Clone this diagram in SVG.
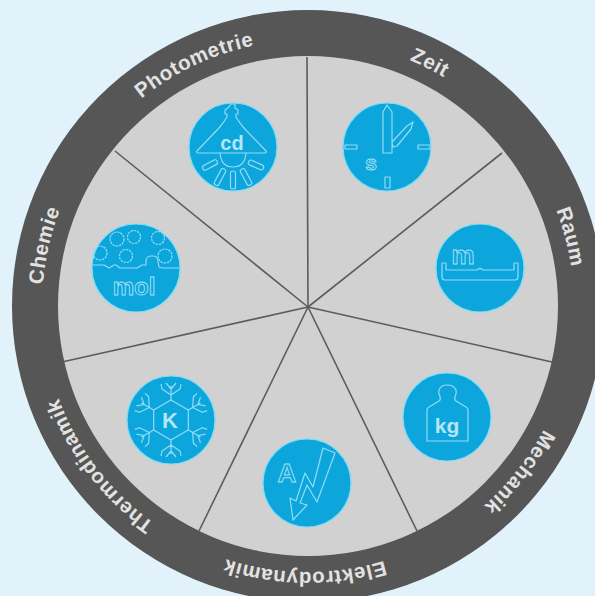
<svg xmlns="http://www.w3.org/2000/svg" width="595" height="596" viewBox="0 0 595 596">
<style>
.lbl{font-family:"Liberation Sans",Arial,sans-serif;font-weight:bold;font-size:20.5px;letter-spacing:.6px;fill:#e2e2e2;text-anchor:middle}
.disc{fill:#0ca5dc;stroke:#7fdcf5;stroke-width:1.2}
.ic{fill:none;stroke:#93dcf4;stroke-width:1.2;stroke-linejoin:round}
.tf{font-family:"Liberation Sans",Arial,sans-serif;font-weight:bold;fill:#b5e6f6;text-anchor:middle}
.to{font-family:"Liberation Sans",Arial,sans-serif;font-weight:bold;fill:none;stroke:#a5e2f6;stroke-width:.9;text-anchor:middle}
.spoke{stroke:#5c5c5c;stroke-width:1.6}
</style>
<defs>
<path id="ringpath" d="M308 40A266 266 0 1 1 307.99 40"/>
<path id="arm" d="M0-20V-34M0-25l-9-6-1-5M0-25l9-6 1-5M0-31l-5-6M0-31l5-6"/>
</defs>
<rect width="595" height="596" fill="#e1f2fb"/>
<g id="wheel">
<circle cx="308" cy="306" r="296" fill="#565656"/>
<circle cx="308" cy="306" r="250" fill="#d1d1d1"/>
</g>
<g id="connectors">
<line class="spoke" x1="308" y1="307" x2="307" y2="57"/>
<line class="spoke" x1="308" y1="307" x2="502" y2="153"/>
<line class="spoke" x1="308" y1="307" x2="552" y2="362"/>
<line class="spoke" x1="308" y1="307" x2="417" y2="531"/>
<line class="spoke" x1="308" y1="307" x2="199" y2="531"/>
<line class="spoke" x1="308" y1="307" x2="62" y2="362"/>
<line class="spoke" x1="308" y1="307" x2="115" y2="151"/>
</g>
<g id="labels">
<text class="lbl"><textPath href="#ringpath" startOffset="7.4%">Zeit</textPath></text>
<text class="lbl"><textPath href="#ringpath" startOffset="20.9%">Raum</textPath></text>
<text class="lbl"><textPath href="#ringpath" startOffset="35.6%">Mechanik</textPath></text>
<text class="lbl"><textPath href="#ringpath" startOffset="50.2%">Elektrodynamik</textPath></text>
<text class="lbl"><textPath href="#ringpath" startOffset="64.6%">Thermodinamik</textPath></text>
<text class="lbl"><textPath href="#ringpath" startOffset="78.6%">Chemie</textPath></text>
<text class="lbl"><textPath href="#ringpath" startOffset="93%">Photometrie</textPath></text>
</g>
<g id="node-cd">
<circle class="disc" cx="233" cy="147" r="44"/>
<path class="ic" d="M231 104h4v4l3 2v4h-2v3q3 5 8 11l22 23q1 2-1 2H198q-2 0-1-2l22-23q5-6 8-11v-3h-2v-4l3-2z"/>
<path class="ic" d="M220 153q1 14 13 14t13-14"/>
<g class="ic">
<rect x="-8" y="-2.500" width="16" height="5" rx="2" transform="translate(210 165) rotate(-28)"/>
<rect x="-9" y="-2.500" width="18" height="5" rx="2" transform="translate(220 177) rotate(-62)"/>
<rect x="-9" y="-2.500" width="18" height="5" rx="2" transform="translate(233 180) rotate(90)"/>
<rect x="-9" y="-2.500" width="18" height="5" rx="2" transform="translate(246 177) rotate(62)"/>
<rect x="-8" y="-2.500" width="16" height="5" rx="2" transform="translate(256 165) rotate(24)"/>
</g>
<text class="tf" x="232" y="150" font-size="20">cd</text>
</g>
<g id="node-s">
<circle class="disc" cx="387" cy="147" r="44"/>
<path class="ic" d="M383 153V112l4-7 5 7v41zM393 147l-1-5 15-16 6-4-2 7-14 17z"/>
<path class="ic" d="M345 145h12v4h-12zM418 145h12v4h-12zM385 177h5v11h-5z"/>
<text class="to" x="371" y="170" font-size="21">s</text>
</g>
<g id="node-mol">
<circle class="disc" cx="136" cy="268" r="44"/>
<g class="ic" stroke-dasharray="2.500 .8">
<circle cx="117" cy="239" r="7"/><circle cx="134" cy="237" r="6.500"/><circle cx="158" cy="238" r="6.500"/>
<circle cx="100" cy="253" r="7"/><circle cx="126" cy="256" r="6.500"/><circle cx="165" cy="256" r="7"/>
</g>
<path class="ic" d="M93 265h11l5 3 5-3h2l4 3h17l5-3h4v-4q0-5 6-5t6 5l1 6 3 1h17"/>
<text class="to" x="134" y="295" font-size="24">mol</text>
</g>
<g id="node-m">
<circle class="disc" cx="480" cy="268" r="44"/>
<path class="ic" d="M442 263h4v7h31q3-3 6 0h31v-7h4v14q0 3-3 3h-70q-3 0-3-3z"/>
<text class="to" x="463" y="264" font-size="26">m</text>
</g>
<g id="node-K">
<circle class="disc" cx="171" cy="420" r="44"/>
<g class="ic" transform="translate(171 420)">
<path d="M0-20L17.300-10V10L0 20L-17.300 10V-10Z"/>
<use href="#arm"/>
<use href="#arm" transform="rotate(60)"/>
<use href="#arm" transform="rotate(120)"/>
<use href="#arm" transform="rotate(180)"/>
<use href="#arm" transform="rotate(240)"/>
<use href="#arm" transform="rotate(300)"/>
</g>
<text class="tf" x="170" y="428" font-size="22">K</text>
</g>
<g id="node-A">
<circle class="disc" cx="307" cy="483" r="44"/>
<path class="ic" d="M323 448l12 5-18 49-10-17-7 18 7 2-14 15-3-22 6 3 9-28 8 14z"/>
<text class="to" x="287" y="482" font-size="26">A</text>
</g>
<g id="node-kg">
<circle class="disc" cx="447" cy="417" r="44"/>
<path class="ic" d="M427 441v-31q0-2 2-3l10-6q2-1 1-4-2-4-1-7 2-5 8-5 7 0 9 5 1 3-1 7-1 3 1 4l10 6q2 1 2 3v31z"/>
<text class="tf" x="447" y="433" font-size="21">kg</text>
</g>
</svg>
